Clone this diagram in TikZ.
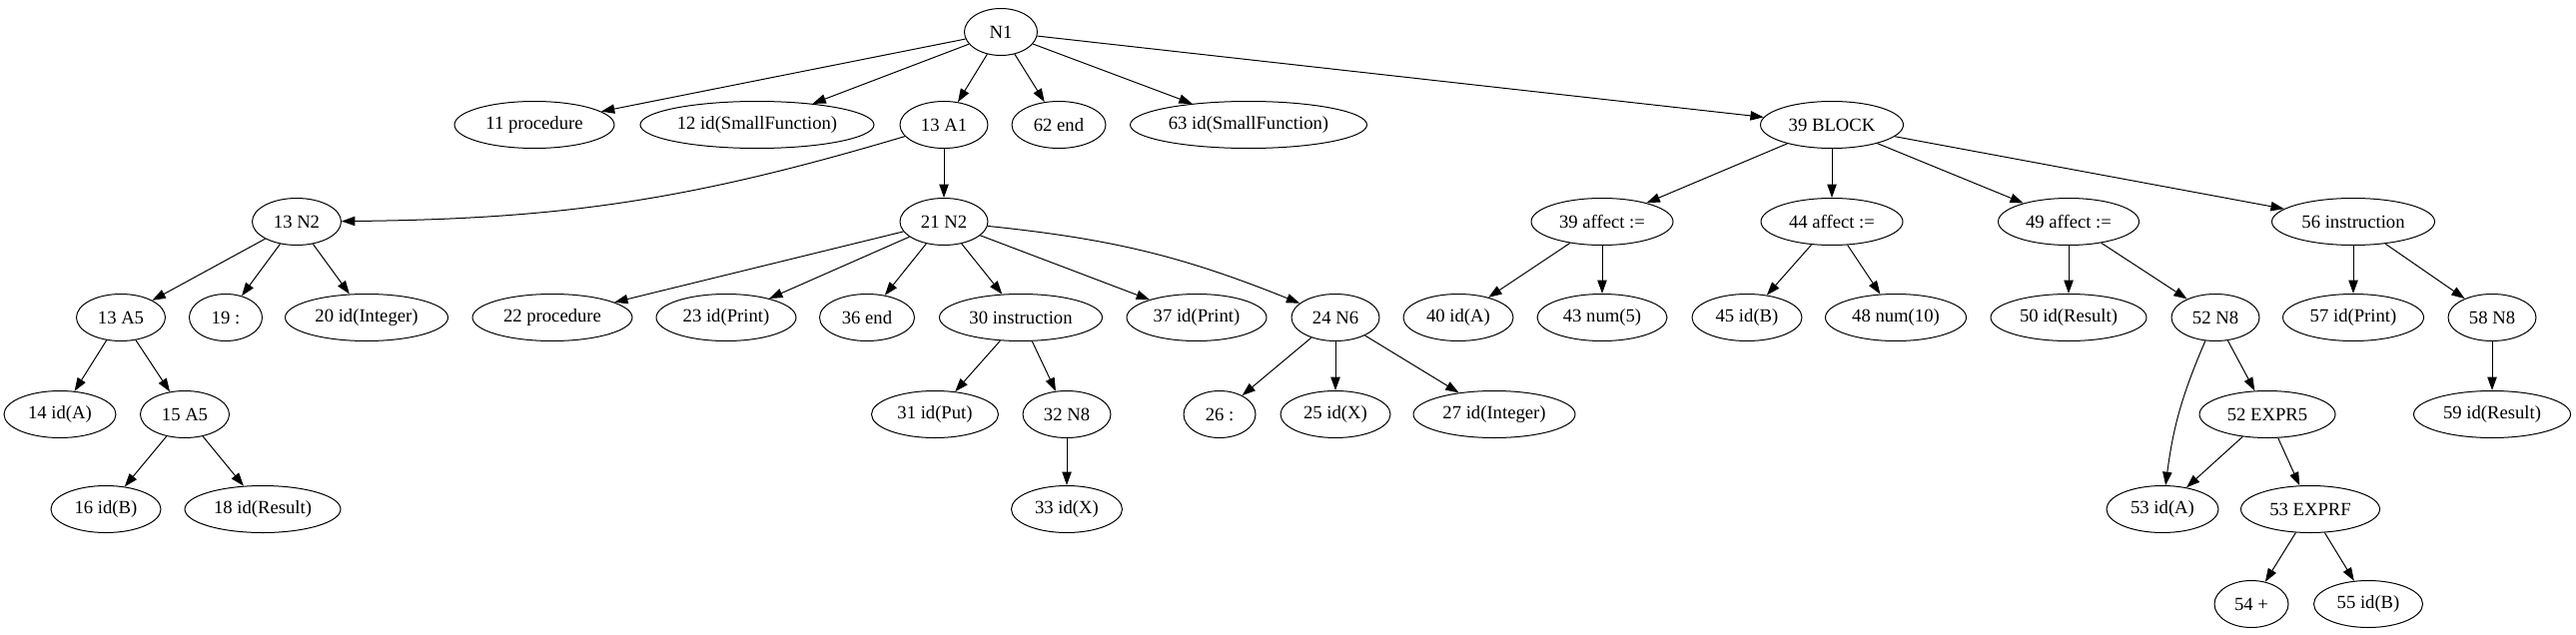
\documentclass[tikz,border=0pt]{standalone}
\usepackage{fontspec}
\setmainfont{Liberation Serif}
\usetikzlibrary{shapes.geometric,arrows.meta}
\tikzset{
  nd/.style={ellipse, draw, line width=0.75pt, inner sep=0pt, minimum height=35.25pt,
    minimum width=#1*0.75pt, font=\fontsize{14}{16}\selectfont},
  ed/.style={draw, line width=0.75pt, -{Triangle[length=10pt,width=7pt]}}
}
\begin{document}
\begin{tikzpicture}[x=0.75pt,y=-0.75pt]
\useasboundingbox (0,0) rectangle (2579,635);
% row 0
\node[nd=73] (n1) at (1002,32) {N1};
% row 1
\node[nd=160] (p11) at (535,125) {11 procedure};
\node[nd=234] (id12) at (758,125) {12 id(SmallFunction)};
\node[nd=88] (a13) at (945,125) {13 A1};
\node[nd=94] (e62) at (1060,125) {62 end};
\node[nd=237] (id63) at (1250,125) {63 id(SmallFunction)};
\node[nd=143] (blk39) at (1834,125) {39 BLOCK};
% row 2
\node[nd=89] (n13) at (297,222) {13 N2};
\node[nd=88] (n21) at (945,222) {21 N2};
\node[nd=142] (af39) at (1604,222) {39 affect :=};
\node[nd=142] (af44) at (1834,222) {44 affect :=};
\node[nd=141] (af49) at (2071,222) {49 affect :=};
\node[nd=163] (in56) at (2356,222) {56 instruction};
% row 3
\node[nd=89] (a5a) at (121,318) {13 A5};
\node[nd=73] (c19) at (226,318) {19 :};
\node[nd=163] (int20) at (367,318) {20 id(Integer)};
\node[nd=160] (p22) at (553,318) {22 procedure};
\node[nd=140] (pr23) at (727,318) {23 id(Print)};
\node[nd=95] (e36) at (868,318) {36 end};
\node[nd=163] (ins30) at (1022,318) {30 instruction};
\node[nd=140] (pr37) at (1198,318) {37 id(Print)};
\node[nd=88] (n6) at (1337,318) {24 N6};
\node[nd=110] (ida40) at (1460,318) {40 id(A)};
\node[nd=130] (num43) at (1604,318) {43 num(5)};
\node[nd=110] (idb45) at (1749,318) {45 id(B)};
\node[nd=141] (num48) at (1898,318) {48 num(10)};
\node[nd=156] (res50) at (2071,318) {50 id(Result)};
\node[nd=88] (n852) at (2218,318) {52 N8};
\node[nd=141] (pr57) at (2356,318) {57 id(Print)};
\node[nd=88] (n858) at (2495,318) {58 N8};
% row 4
\node[nd=112] (ida14) at (60,415) {14 id(A)};
\node[nd=89] (a5b) at (185,415) {15 A5};
\node[nd=127] (put31) at (936,415) {31 id(Put)};
\node[nd=88] (n832) at (1068,415) {32 N8};
\node[nd=72] (c26) at (1221,415) {26 :};
\node[nd=110] (idx25) at (1337,415) {25 id(X)};
\node[nd=162] (int27) at (1496,415) {27 id(Integer)};
\node[nd=136] (ex52) at (2270,415) {52 EXPR5};
\node[nd=157] (res59) at (2495,415) {59 id(Result)};
% row 5
\node[nd=110] (idb16) at (106,510) {16 id(B)};
\node[nd=156] (res18) at (263,510) {18 id(Result)};
\node[nd=111] (idx33) at (1068,510) {33 id(X)};
\node[nd=112] (ida53) at (2165,510) {53 id(A)};
\node[nd=139] (exf53) at (2313,510) {53 EXPRF};
% row 6
\node[nd=74] (plus54) at (2254,605) {54 +};
\node[nd=109] (idb55) at (2371,605) {55 id(B)};
% edges
\draw[ed] (n1) -- (p11);
\draw[ed] (n1) -- (id12);
\draw[ed] (n1) -- (a13);
\draw[ed] (n1) -- (e62);
\draw[ed] (n1) -- (id63);
\draw[ed] (n1) -- (blk39);
\draw[ed] (a13) to[bend left=8] (n13);
\draw[ed] (a13) -- (n21);
\draw[ed] (n13) -- (a5a);
\draw[ed] (n13) -- (c19);
\draw[ed] (n13) -- (int20);
\draw[ed] (a5a) -- (ida14);
\draw[ed] (a5a) -- (a5b);
\draw[ed] (a5b) -- (idb16);
\draw[ed] (a5b) -- (res18);
\draw[ed] (n21) -- (p22);
\draw[ed] (n21) -- (pr23);
\draw[ed] (n21) -- (e36);
\draw[ed] (n21) -- (ins30);
\draw[ed] (n21) -- (pr37);
\draw[ed] (n21) to[bend left=8] (n6);
\draw[ed] (ins30) -- (put31);
\draw[ed] (ins30) -- (n832);
\draw[ed] (n832) -- (idx33);
\draw[ed] (n6) -- (c26);
\draw[ed] (n6) -- (idx25);
\draw[ed] (n6) -- (int27);
\draw[ed] (blk39) -- (af39);
\draw[ed] (blk39) -- (af44);
\draw[ed] (blk39) -- (af49);
\draw[ed] (blk39) -- (in56);
\draw[ed] (af39) -- (ida40);
\draw[ed] (af39) -- (num43);
\draw[ed] (af44) -- (idb45);
\draw[ed] (af44) -- (num48);
\draw[ed] (af49) -- (res50);
\draw[ed] (af49) -- (n852);
\draw[ed] (n852) to[bend right=8] (ida53);
\draw[ed] (n852) -- (ex52);
\draw[ed] (ex52) -- (ida53);
\draw[ed] (ex52) -- (exf53);
\draw[ed] (exf53) -- (plus54);
\draw[ed] (exf53) -- (idb55);
\draw[ed] (in56) -- (pr57);
\draw[ed] (in56) -- (n858);
\draw[ed] (n858) -- (res59);
\end{tikzpicture}
\end{document}
